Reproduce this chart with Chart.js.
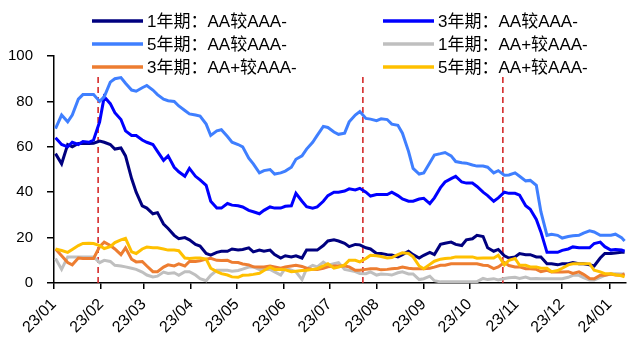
<!DOCTYPE html>
<html>
<head>
<meta charset="utf-8">
<script src="https://cdn.jsdelivr.net/npm/chart.js@4.4.1/dist/chart.umd.min.js"></script>
<style>
  html, body { margin: 0; padding: 0; background: #fff; }
  #wrap { width: 629px; height: 338px; }
</style>
</head>
<body>
<div id="wrap"><canvas id="c" width="629" height="338"></canvas></div>
<script>
// Observation dates (twice weekly)
const dates = [
  '2023-01-02','2023-01-06','2023-01-10','2023-01-13','2023-01-17','2023-01-20','2023-01-24','2023-01-27','2023-01-31','2023-02-03',
  '2023-02-07','2023-02-10','2023-02-14','2023-02-17','2023-02-21','2023-02-24','2023-02-28','2023-03-03','2023-03-07','2023-03-10',
  '2023-03-14','2023-03-17','2023-03-21','2023-03-24','2023-03-28','2023-03-31','2023-04-04','2023-04-07','2023-04-11','2023-04-14',
  '2023-04-18','2023-04-21','2023-04-25','2023-04-28','2023-05-02','2023-05-05','2023-05-09','2023-05-12','2023-05-16','2023-05-19',
  '2023-05-23','2023-05-26','2023-05-30','2023-06-02','2023-06-06','2023-06-09','2023-06-13','2023-06-16','2023-06-20','2023-06-23',
  '2023-06-27','2023-06-30','2023-07-04','2023-07-07','2023-07-11','2023-07-14','2023-07-18','2023-07-21','2023-07-25','2023-07-28',
  '2023-08-01','2023-08-04','2023-08-08','2023-08-11','2023-08-15','2023-08-18','2023-08-22','2023-08-25','2023-08-29','2023-09-01',
  '2023-09-05','2023-09-08','2023-09-12','2023-09-15','2023-09-19','2023-09-22','2023-09-26','2023-09-29','2023-10-03','2023-10-06',
  '2023-10-10','2023-10-13','2023-10-17','2023-10-20','2023-10-24','2023-10-27','2023-10-31','2023-11-03','2023-11-07','2023-11-10',
  '2023-11-14','2023-11-17','2023-11-21','2023-11-24','2023-11-28','2023-12-01','2023-12-05','2023-12-08','2023-12-12','2023-12-15',
  '2023-12-19','2023-12-22','2023-12-26','2023-12-29','2024-01-02','2024-01-05','2024-01-09','2024-01-11'
];

// Spreads (bp), one value per date
const aa1y = [
  57,52.5,61,60,61.5,61.6,61.5,61.6,62.5,62,
  61,59,59.5,56,46,40,34,33,30.5,31,
  26,24,21,19.5,20,19,17,16.3,13,12.3,
  13.5,14,14,15,14.5,14.8,15.5,13.7,14.5,14,
  14.5,12.5,11,12,11.5,12,11,14.5,14.5,14.5,
  16.5,18.5,19,18.5,17.5,16,17,16.8,15.5,15,
  13,13,12.5,12.3,11.5,12.5,14,12.5,11,12.2,
  13.5,12.5,17,17.5,18,17,16.5,19,19.5,21,
  20.5,15.5,14,14.8,12,11,11.5,13,12.5,12.5,
  11.5,11.5,8.5,8.5,8,8.5,8.5,9,8.5,8.5,
  8,7.5,11,13,13,13.2,13.5,13.5
];
const aa3y = [
  64,61,60,62,61,62.3,62,63,71,82,
  79,75,72,67,65,65,63,62,61,58,
  54,56,51,49,47,50.5,47,45.4,43,36,
  33,33,35,34.3,34,33.5,32,31.4,30.5,32,
  33.5,33,33,33.8,34,39.5,36,33.6,33,33.5,
  36,38.5,40,40,40.5,41.5,41,41.7,40,38.3,
  39,39,39,40,38.5,37,36,36,37,37.3,
  35,37.5,42,44.5,46,47,44.5,44,44,42.5,
  40,38.5,36,37.5,40,39.5,39.5,38.7,34,32.5,
  28,22.5,13.5,13.5,13.5,14.4,15,15.9,15.5,15.5,
  15.5,17.4,18,16,14.5,14.8,14.5,14
];
const aa5y = [
  68,74,71,74,81,83,83,83,80,82,
  88.5,90,90.5,88,85,84.5,86,87,85,83,
  81,80.3,80,78,76,74.5,74,73.5,70,65,
  67,67.5,64.5,62,61,60,55,52.5,48.5,49.5,
  50,48,48.5,49.3,51,54.5,56,59,62,65,
  69,68.5,66.5,65.5,66,71,74,75.5,72.5,72.2,
  71.5,72.3,72,70,69.5,66,58,50.5,48,48.5,
  53,56.4,57,57.5,56,53.5,53,52.8,52,51.5,
  51.5,51,48.5,49.5,47.5,47.6,48.5,47,45,45.2,
  43,31.4,21,21.5,21,19.8,20.5,20.8,21,22,
  23,22.5,21,21,21,21.5,20,18.5
];
const aap1y = [
  10.8,6,11.5,11.5,11.5,11.5,11.5,11.5,9,10,
  9.5,7.8,7.5,7.1,6.5,6,4.8,3.5,2.7,3,
  4.8,4.2,4.5,3.4,5,5,3.5,1.9,1,3.4,
  5.6,5.6,5.6,5.2,5.5,6.1,7,7.1,6,6,
  6,4.9,3.5,6.5,5.6,4.9,1.5,6.3,7.8,7.1,
  9.2,7.8,8.5,9,6,5.6,5,4.2,4.1,4.9,
  3.5,4,3.8,3.5,4.5,4.9,4,4,1.5,1.9,
  3,1,0.5,0.5,0.5,0.5,0.5,0.5,0.5,0.6,
  2,1.5,1.9,1.3,2,2.3,2.5,2,2.6,1.9,
  2,1.9,1.9,1.9,1.9,1.9,2.5,3.4,3.4,2.4,
  1.3,1.3,2.5,3.4,4,4.1,4,4
];
const aap3y = [
  15,12,9,8,11,10.8,10.8,10.8,16,18,
  16.5,15,12.5,15.5,10.5,9.3,9.5,7.5,5,5,
  7,8,7.5,8.4,7.5,9.5,9.5,9.8,10.5,10.9,
  10,9.9,10,9.1,9,8.4,8,7.1,7,7.1,
  7.5,7.1,6.5,7.1,7.5,7.8,7.3,6.5,6,5.9,
  6.5,7.1,7.5,7.5,7.5,7.1,5.6,5.6,6,6.3,
  6.3,5.8,6,6.3,6.5,7,6.5,6.3,6.3,6.3,
  6.5,7,7.8,7.8,8.5,8.5,8.5,8.5,8.5,8.5,
  7.8,7.7,6.3,7.1,9,7.7,7.1,7.1,6.3,6.3,
  6,5,5.6,4.9,5,4.9,5,4.2,4.9,3.8,
  2,1.9,3.4,3.4,4,3.5,3.4,4
];
const aap5y = [
  15,14.3,13.5,14.8,16.5,17.4,17.5,17.4,16.5,15.2,
  16,17.8,19,19.7,13.7,13,15,15.8,15.5,15.5,
  15,14.5,14.5,14.2,11,10.8,11,11,10.5,6.5,
  5,4.1,3.5,2.7,2.5,3.4,3.5,3.8,4.3,5.5,
  7,6,6,5.8,5,5.2,5.5,5.6,6,6.3,
  7.5,8.5,6.5,7,8,10,10,9.3,10.8,12.2,
  12,11.7,11,11.2,12.5,13.3,13,11.5,7.5,6.3,
  8.2,9.6,10.5,10.8,11,11.5,11.5,11.5,11.5,10.9,
  11,11,11,12.2,8,10,10.8,7.8,7.8,7.1,
  7.1,6.5,6.5,5,5.5,6.5,8,8.5,8.5,8.5,
  8.5,5.6,4.9,4.1,4.1,3.6,3.2,2.7
];

const seriesNames = ['1年期：AA较AAA-','3年期：AA较AAA-','5年期：AA较AAA-','1年期：AA+较AAA-','3年期：AA+较AAA-','5年期：AA+较AAA-'];
const seriesColors = ['#00007F','#0000FF','#3F7FFF','#BFBFBF','#ED7D31','#FFC000'];

// Axis month labels (yy/mm)
const monthLabels = ['23/01','23/02','23/03','23/04','23/05','23/06','23/07','23/08','23/09','23/10','23/11','23/12','24/01'];

// Policy event dates marked with dashed lines
const eventDates = ['2023-01-30','2023-07-23','2023-10-23'];
const eventTop = 91;

const ORIGIN = Date.UTC(2023, 0, 1);
function dayOf(str) {
  const [y, m, d] = str.split('-').map(Number);
  return (Date.UTC(y, m - 1, d) - ORIGIN) / 86400000;
}
function dayOfMonthLabel(lbl) {
  const [yy, mm] = lbl.split('/').map(Number);
  return (Date.UTC(2000 + yy, mm - 1, 1) - ORIGIN) / 86400000;
}
const monthTicks = monthLabels.map(dayOfMonthLabel);

const FONT = "'Liberation Sans', Arial, 'Noto Sans CJK SC', sans-serif";
const allSeries = [aa1y, aa3y, aa5y, aap1y, aap3y, aap5y];

const datasets = allSeries.map((vals, k) => ({
  label: seriesNames[k],
  data: dates.map((d, i) => ({ x: dayOf(d), y: vals[i] })),
  borderColor: seriesColors[k],
  backgroundColor: seriesColors[k],
  borderWidth: 3,
  pointRadius: 0,
  tension: 0,
  order: 6 - k
}));

eventDates.forEach(d => {
  datasets.push({
    label: '',
    isEvent: true,
    data: [{ x: dayOf(d), y: 0 }, { x: dayOf(d), y: eventTop }],
    borderColor: '#D42A2A',
    borderWidth: 1.6,
    borderDash: [6, 4],
    pointRadius: 0,
    order: 20
  });
});

// Two-column legend above the plot
const gridLegend = {
  id: 'gridLegend',
  afterDraw(chart, args, opts) {
    const ctx = chart.ctx;
    const items = chart.data.datasets.filter(ds => !ds.isEvent);
    ctx.save();
    ctx.font = opts.font;
    ctx.textBaseline = 'middle';
    ctx.textAlign = 'left';
    items.forEach((ds, i) => {
      const x = opts.colX[i % 2];
      const y = opts.rowY[Math.floor(i / 2)];
      ctx.strokeStyle = ds.borderColor;
      ctx.lineWidth = 3.5;
      ctx.beginPath();
      ctx.moveTo(x, y);
      ctx.lineTo(x + opts.lineLen, y);
      ctx.stroke();
      ctx.fillStyle = '#000';
      ctx.fillText(ds.label, x + opts.lineLen + opts.gap, y + 1);
    });
    ctx.restore();
  }
};

new Chart(document.getElementById('c'), {
  type: 'line',
  data: { datasets },
  plugins: [gridLegend],
  options: {
    responsive: false,
    animation: false,
    devicePixelRatio: 1,
    layout: { padding: { top: 56, right: 2, left: 0, bottom: 0 } },
    plugins: {
      legend: { display: false },
      tooltip: { enabled: false },
      gridLegend: {
        font: "17px " + FONT,
        colX: [92, 383],
        rowY: [21, 44, 67],
        lineLen: 51,
        gap: 4
      }
    },
    scales: {
      x: {
        type: 'linear',
        min: 0,
        max: 376,
        afterBuildTicks: s => { s.ticks = monthTicks.map(v => ({ value: v })); },
        afterFit: s => { s.height = 55; },
        ticks: {
          autoSkip: false,
          minRotation: 45,
          maxRotation: 45,
          padding: 6,
          color: '#000',
          font: { family: FONT, size: 16 },
          callback: v => monthLabels[monthTicks.indexOf(v)]
        },
        grid: { drawOnChartArea: false, drawTicks: true, tickLength: 6, color: '#000', lineWidth: 1.5 },
        border: { color: '#000', width: 1.5 }
      },
      y: {
        min: 0,
        max: 100,
        afterFit: s => { s.width = 54; },
        ticks: {
          stepSize: 20,
          padding: 14,
          color: '#000',
          font: { family: FONT, size: 15 }
        },
        grid: { drawOnChartArea: false, drawTicks: true, tickLength: 7, color: '#000', lineWidth: 1.5 },
        border: { color: '#000', width: 1.5 }
      }
    }
  }
});
</script>
</body>
</html>
